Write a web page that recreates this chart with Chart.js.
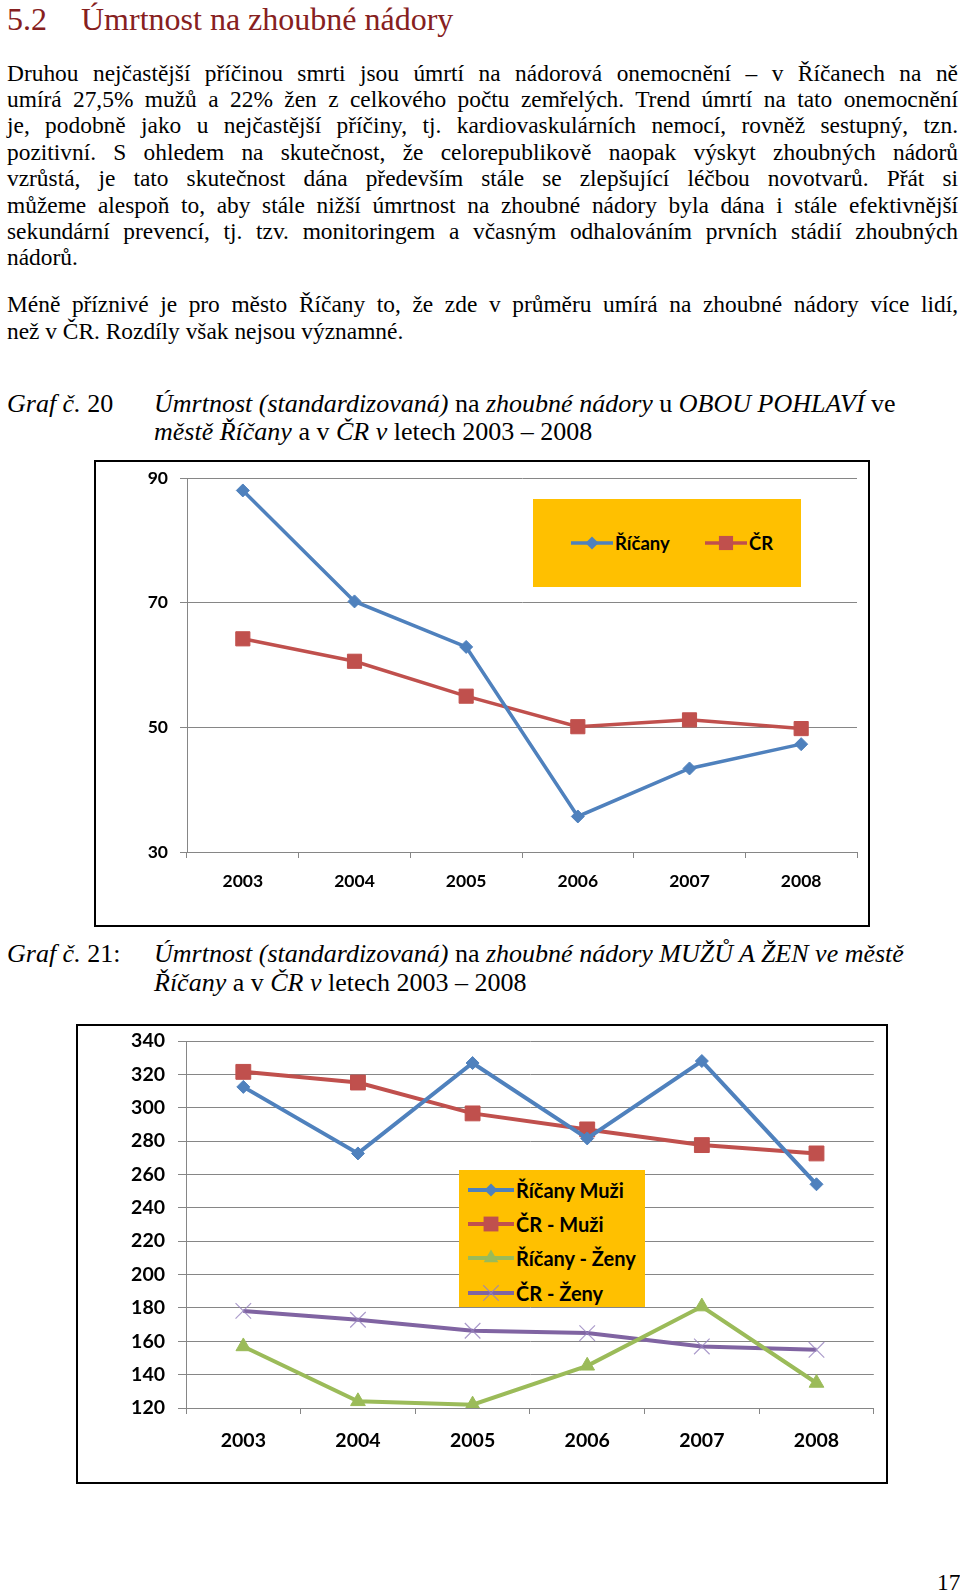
<!DOCTYPE html>
<html>
<head>
<meta charset="utf-8">
<script src="https://cdn.jsdelivr.net/npm/chart.js@4"></script>
<style>
  body { margin:0; width:960px; height:1592px; position:relative; background:#fff;
         font-family:"Liberation Serif","Times New Roman",serif; color:#000; overflow:hidden; }
  .abs { position:absolute; }
  .ln { position:absolute; left:7px; width:951px; height:27px; line-height:27px; font-size:23.4px;
        white-space:nowrap; }
  .j { text-align:justify; text-align-last:justify; white-space:normal; }
  .cap { font-size:26px; line-height:28px; height:28px; }
  .frame { position:absolute; border:2px solid #000; box-sizing:border-box; }
  .leg { position:absolute; background:#FFC000; }
  .li { position:absolute; font-family:Lato,"Open Sans",sans-serif; font-weight:bold;
        line-height:24px; white-space:nowrap; display:flex; align-items:center; }
  .li svg { margin-right:2px; }
</style>
</head>
<body>

<div class="abs" style="left:7px;top:0px;font-size:32px;line-height:38px;color:#862020;">5.2<span class="abs" style="left:74px;white-space:nowrap">Úmrtnost na zhoubné nádory</span></div>

<div class="ln j" style="top:60px">Druhou nejčastější příčinou smrti jsou úmrtí na nádorová onemocnění – v Říčanech na ně</div>
<div class="ln j" style="top:86px">umírá 27,5% mužů a 22% žen z celkového počtu zemřelých. Trend úmrtí na tato onemocnění</div>
<div class="ln j" style="top:112px">je, podobně jako u nejčastější příčiny, tj. kardiovaskulárních nemocí, rovněž sestupný, tzn.</div>
<div class="ln j" style="top:139px">pozitivní. S ohledem na skutečnost, že celorepublikově naopak výskyt zhoubných nádorů</div>
<div class="ln j" style="top:165px">vzrůstá, je tato skutečnost dána především stále se zlepšující léčbou novotvarů. Přát si</div>
<div class="ln j" style="top:192px">můžeme alespoň to, aby stále nižší úmrtnost na zhoubné nádory byla dána i stále efektivnější</div>
<div class="ln j" style="top:218px">sekundární prevencí, tj. tzv. monitoringem a včasným odhalováním prvních stádií zhoubných</div>
<div class="ln" style="top:244px">nádorů.</div>

<div class="ln j" style="top:291px">Méně příznivé je pro město Říčany to, že zde v průměru umírá na zhoubné nádory více lidí,</div>
<div class="ln" style="top:318px">než v ČR. Rozdíly však nejsou významné.</div>

<div class="ln cap" style="top:390px"><i>Graf č.</i> 20</div>
<div class="ln cap" style="top:390px;left:154px;width:auto"><i>Úmrtnost (standardizovaná)</i> na <i>zhoubné nádory</i> u <i>OBOU POHLAVÍ</i> ve</div>
<div class="ln cap" style="top:418px;left:154px;width:auto"><i>městě Říčany</i> a v <i>ČR v</i> letech 2003 – 2008</div>

<div class="frame" style="left:94px;top:460px;width:776px;height:467px;"></div>
<canvas id="c1" class="abs" style="left:96px;top:462px;"></canvas>
<div id="leg1" class="leg" style="left:533px;top:499px;width:268px;height:88px;"></div>

<div class="ln cap" style="top:940px"><i>Graf č.</i> 21:</div>
<div class="ln cap" style="top:940px;left:154px;width:auto"><i>Úmrtnost (standardizovaná)</i> na <i>zhoubné nádory MUŽŮ A ŽEN ve městě</i></div>
<div class="ln cap" style="top:969px;left:154px;width:auto"><i>Říčany</i> a v <i>ČR v</i> letech 2003 – 2008</div>

<div class="frame" style="left:76px;top:1024px;width:812px;height:460px;"></div>
<canvas id="c2" class="abs" style="left:78px;top:1026px;"></canvas>
<div id="leg2" class="leg" style="left:459px;top:1170px;width:186px;height:137px;"></div>

<div class="ln" style="top:1569px;left:937px;width:auto">17</div>

<script>
// chart data
var years = ['2003', '2004', '2005', '2006', '2007', '2008'];

// Graf 20 - both sexes
var ricany = [88.0, 70.2, 62.9, 35.7, 43.4, 47.3];
var cr = [64.2, 60.6, 55.0, 50.1, 51.2, 49.8];
var ticks1 = [30, 50, 70, 90];

// Graf 21 - men and women
var ricanyMuzi = [312.5, 272.6, 326.8, 281.6, 328.0, 254.1];
var crMuzi = [321.5, 315.1, 296.6, 287.0, 277.6, 272.6];
var ricanyZeny = [156.9, 124.0, 122.0, 145.3, 180.8, 135.0];
var crZeny = [178.2, 172.9, 166.3, 164.9, 156.9, 154.9];
var ticks2 = [120, 340];

var BLUE = '#4F81BD', RED = '#C0504D', GREEN = '#9BBB59', PURPLE = '#8064A2';

Chart.defaults.font.family = "Lato, 'Open Sans', sans-serif";
Chart.defaults.color = '#000';

function series(label, data, color, style, radius, width) {
  var s = {
    label: label,
    data: data,
    borderColor: color,
    backgroundColor: color,
    borderWidth: width,
    tension: 0,
    pointStyle: style,
    pointRadius: radius,
    pointHoverRadius: radius,
    pointBackgroundColor: color,
    pointBorderColor: color,
    pointBorderWidth: 1
  };
  if (style === 'crossRot') {
    s.pointBorderColor = 'rgba(150,130,190,0.8)';
    s.pointBorderWidth = 1.2;
  }
  return s;
}

// fixed axis sizes, and no automatic label padding so the plot area sits where the picture has it
function scales(min, max, fontSize, yWidth, yTick, yPad, xHeight, xPad) {
  return {
    x: {
      offset: true,
      grid: { offset: true, drawOnChartArea: false, drawTicks: true, tickLength: 6, color: '#868686' },
      border: { color: '#868686' },
      ticks: { padding: xPad, font: { size: fontSize, weight: 'bold' } },
      afterFit: function (s) {
        s.height = xHeight;
        s.paddingLeft = 0; s.paddingRight = 0;
      }
    },
    y: {
      min: min,
      max: max,
      ticks: { stepSize: 20, padding: yPad, font: { size: fontSize, weight: 'bold' } },
      grid: { color: '#868686', tickLength: yTick },
      border: { color: '#868686' },
      afterFit: function (s) {
        s.width = yWidth;
        s.paddingTop = 0; s.paddingBottom = 0;
      }
    }
  };
}

function setSize(id, w, h) {
  var c = document.getElementById(id);
  c.width = w; c.height = h;
  c.style.width = w + 'px'; c.style.height = h + 'px';
  return c;
}

var chart1 = new Chart(setSize('c1', 772, 463), {
  type: 'line',
  data: {
    labels: years,
    datasets: [
      series('Říčany', ricany, BLUE, 'rectRot', 6.5, 3.5),
      series('ČR', cr, RED, 'rect', 10, 3.5)
    ]
  },
  options: {
    responsive: false,
    animation: false,
    layout: { padding: { top: 16, right: 8, left: 0, bottom: 0 } },
    plugins: { legend: { display: false }, tooltip: { enabled: false } },
    scales: scales(ticks1[0], ticks1[ticks1.length - 1], 17.5, 91, 7, 12, 73, 13)
  }
});

var chart2 = new Chart(setSize('c2', 808, 456), {
  type: 'line',
  data: {
    labels: years,
    datasets: [
      series('Říčany Muži', ricanyMuzi, BLUE, 'rectRot', 6.5, 4),
      series('ČR - Muži', crMuzi, RED, 'rect', 10.5, 4),
      series('Říčany - Ženy', ricanyZeny, GREEN, 'triangle', 8.5, 4),
      series('ČR - Ženy', crZeny, PURPLE, 'crossRot', 11, 4)
    ]
  },
  options: {
    responsive: false,
    animation: false,
    layout: { padding: { top: 15, right: 1, left: 0, bottom: 0 } },
    plugins: { legend: { display: false }, tooltip: { enabled: false } },
    scales: scales(ticks2[0], ticks2[1], 19.5, 108, 8, 13, 74, 15)
  }
});

// legend markers drawn as small svg next to the label text
function markerSvg(ds, lineLen) {
  var h = 24, cy = h / 2, cx = lineLen / 2, r = ds.pointRadius, c = ds.borderColor;
  var m = '';
  if (ds.pointStyle === 'rectRot') {
    m = '<polygon points="' + cx + ',' + (cy - r) + ' ' + (cx + r) + ',' + cy + ' ' + cx + ',' + (cy + r) + ' ' + (cx - r) + ',' + cy + '" fill="' + c + '"/>';
  } else if (ds.pointStyle === 'rect') {
    var s = r * Math.SQRT1_2;
    m = '<rect x="' + (cx - s) + '" y="' + (cy - s) + '" width="' + 2 * s + '" height="' + 2 * s + '" fill="' + c + '"/>';
  } else if (ds.pointStyle === 'triangle') {
    var a = r * 0.866;
    m = '<polygon points="' + cx + ',' + (cy - r) + ' ' + (cx + a) + ',' + (cy + r / 2) + ' ' + (cx - a) + ',' + (cy + r / 2) + '" fill="' + c + '"/>';
  } else if (ds.pointStyle === 'crossRot') {
    var d = r * Math.SQRT1_2;
    m = '<path d="M' + (cx - d) + ' ' + (cy - d) + 'L' + (cx + d) + ' ' + (cy + d) + 'M' + (cx + d) + ' ' + (cy - d) + 'L' + (cx - d) + ' ' + (cy + d) + '" stroke="' + ds.pointBorderColor + '" stroke-width="1.2"/>';
  }
  return '<svg width="' + lineLen + '" height="' + h + '"><line x1="0" y1="' + cy + '" x2="' + lineLen + '" y2="' + cy + '" stroke="' + c + '" stroke-width="' + ds.borderWidth + '"/>' + m + '</svg>';
}

function htmlLegend(chart, boxId, spots, lineLen, fontSize) {
  var box = document.getElementById(boxId);
  chart.data.datasets.forEach(function (ds, i) {
    var el = document.createElement('div');
    el.className = 'li';
    el.style.left = spots[i][0] + 'px';
    el.style.top = spots[i][1] + 'px';
    el.style.fontSize = fontSize + 'px';
    el.innerHTML = markerSvg(ds, lineLen) + '<span>' + ds.label + '</span>';
    box.appendChild(el);
  });
}

htmlLegend(chart1, 'leg1', [[38, 32], [172, 32]], 42, 18.5);
htmlLegend(chart2, 'leg2', [[9, 8], [9, 42], [9, 76], [9, 111]], 46, 20);
</script>
</body>
</html>
